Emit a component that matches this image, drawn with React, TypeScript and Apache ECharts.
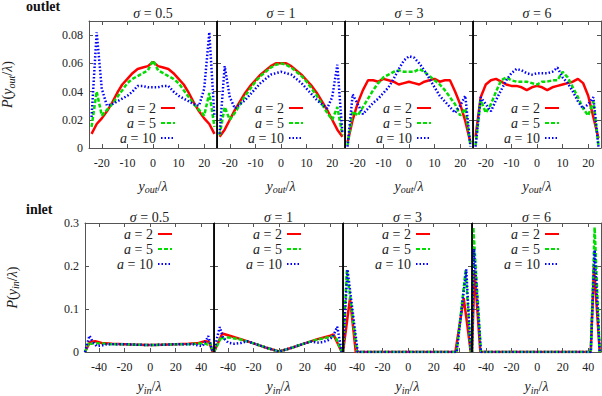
import React, { useEffect, useRef } from "react";
import * as echarts from "echarts";

// ---------- data ----------
const X_OUT = [-24, -22, -20, -18, -16, -14, -12, -10, -8, -6, -4, -2, 0, 2, 4, 6, 8, 10, 12, 14, 16, 18, 20, 22, 24];

const OUT_S05_A2 = [0.010, 0.017, 0.021, 0.026, 0.032, 0.039, 0.045, 0.049, 0.053, 0.056, 0.057, 0.058, 0.061, 0.058, 0.057, 0.056, 0.053, 0.049, 0.045, 0.039, 0.032, 0.026, 0.021, 0.017, 0.010];
const OUT_S05_A5 = [0.015, 0.040, 0.023, 0.027, 0.031, 0.036, 0.041, 0.046, 0.049, 0.051, 0.053, 0.055, 0.062, 0.055, 0.053, 0.051, 0.049, 0.046, 0.041, 0.036, 0.031, 0.027, 0.023, 0.039, 0.015];
const OUT_S05_A10 = [0.022, 0.082, 0.042, 0.030, 0.031, 0.033, 0.035, 0.037, 0.040, 0.044, 0.044, 0.043, 0.043, 0.043, 0.044, 0.044, 0.040, 0.037, 0.035, 0.033, 0.031, 0.030, 0.042, 0.082, 0.022];

const OUT_S1_A2 = [0.008, 0.013, 0.020, 0.027, 0.033, 0.039, 0.044, 0.048, 0.052, 0.055, 0.058, 0.060, 0.060, 0.060, 0.058, 0.055, 0.052, 0.048, 0.044, 0.039, 0.033, 0.027, 0.020, 0.013, 0.008];
const OUT_S1_A5 = [0.009, 0.029, 0.020, 0.025, 0.031, 0.037, 0.042, 0.047, 0.051, 0.054, 0.057, 0.059, 0.060, 0.059, 0.057, 0.054, 0.051, 0.047, 0.042, 0.037, 0.031, 0.025, 0.020, 0.029, 0.009];
const OUT_S1_A10 = [0.010, 0.058, 0.036, 0.028, 0.031, 0.034, 0.038, 0.042, 0.046, 0.049, 0.052, 0.053, 0.054, 0.053, 0.052, 0.049, 0.046, 0.042, 0.038, 0.034, 0.031, 0.028, 0.036, 0.059, 0.010];

const OUT_S3_A2 = [0.004, 0.020, 0.032, 0.041, 0.048, 0.048, 0.047, 0.049, 0.048, 0.047, 0.045, 0.046, 0.047, 0.046, 0.045, 0.047, 0.048, 0.049, 0.047, 0.048, 0.048, 0.040, 0.031, 0.019, 0.004];
const OUT_S3_A5 = [0.002, 0.026, 0.023, 0.029, 0.035, 0.041, 0.046, 0.050, 0.052, 0.054, 0.055, 0.054, 0.054, 0.054, 0.056, 0.054, 0.051, 0.048, 0.045, 0.041, 0.036, 0.031, 0.023, 0.028, 0.002];
const OUT_S3_A10 = [0.001, 0.038, 0.031, 0.024, 0.028, 0.032, 0.035, 0.039, 0.043, 0.049, 0.056, 0.062, 0.065, 0.064, 0.060, 0.055, 0.049, 0.043, 0.037, 0.033, 0.029, 0.025, 0.030, 0.037, 0.001];

const OUT_S6_A2 = [0.008, 0.036, 0.045, 0.048, 0.049, 0.047, 0.045, 0.044, 0.044, 0.043, 0.041, 0.043, 0.044, 0.043, 0.041, 0.043, 0.044, 0.045, 0.046, 0.047, 0.049, 0.046, 0.037, 0.022, 0.007];
const OUT_S6_A5 = [0.002, 0.034, 0.025, 0.031, 0.040, 0.048, 0.050, 0.048, 0.047, 0.047, 0.047, 0.046, 0.045, 0.047, 0.047, 0.048, 0.048, 0.054, 0.050, 0.043, 0.036, 0.028, 0.023, 0.033, 0.002];
const OUT_S6_A10 = [0.001, 0.036, 0.031, 0.026, 0.034, 0.041, 0.048, 0.053, 0.056, 0.055, 0.053, 0.052, 0.053, 0.053, 0.053, 0.054, 0.057, 0.050, 0.046, 0.040, 0.033, 0.028, 0.031, 0.036, 0.001];

const IN_S05_A2 = [[-51, 0], [-47, 0.024], [-43, 0.025], [-38, 0.021], [-30, 0.019], [-20, 0.018], [-10, 0.017], [0, 0.016], [10, 0.017], [20, 0.018], [30, 0.019], [38, 0.021], [43, 0.025], [46, 0.024], [49, 0]];
const IN_S05_A5 = [[-51, 0], [-48, 0.022], [-46, 0.019], [-44, 0.021], [-40, 0.020], [-30, 0.018], [-20, 0.018], [-10, 0.017], [0, 0.016], [10, 0.017], [20, 0.018], [30, 0.018], [40, 0.020], [43, 0.020], [45, 0.017], [47, 0.022], [49, 0]];
const IN_S05_A10 = [[-51, 0], [-47.5, 0.038], [-45, 0.024], [-42, 0.014], [-38, 0.015], [-34, 0.018], [-20, 0.018], [-10, 0.017], [0, 0.016], [10, 0.017], [20, 0.018], [34, 0.018], [38, 0.015], [41, 0.014], [44, 0.028], [45.5, 0.037], [47.5, 0.015], [49, 0]];

const IN_S1_A2 = [[-51, 0], [-44.5, 0.043], [-40, 0.039], [-30, 0.030], [-20, 0.020], [-10, 0.010], [0, 0.001], [10, 0.010], [20, 0.020], [30, 0.030], [40, 0.038], [42.5, 0.041], [49, 0]];
const IN_S1_A5 = [[-51, 0], [-45, 0.036], [-43, 0.030], [-40, 0.034], [-30, 0.029], [-20, 0.020], [-10, 0.010], [0, 0.001], [10, 0.010], [20, 0.020], [30, 0.029], [40, 0.035], [43, 0.037], [45, 0.030], [49, 0]];
const IN_S1_A10 = [[-51, 0], [-48, 0.040], [-46.5, 0.058], [-44, 0.034], [-40, 0.022], [-35, 0.019], [-30, 0.021], [-25, 0.025], [-20, 0.020], [-10, 0.010], [0, 0.001], [10, 0.010], [20, 0.020], [25, 0.024], [30, 0.022], [34, 0.023], [38, 0.027], [42, 0.035], [45.5, 0.059], [49, 0]];

const IN_S3_A2 = [[-51, 0], [-45.5, 0.125], [-41, 0], [37, 0], [43.5, 0.125], [46, 0.07], [49, 0]];
const IN_S3_A5 = [[-51, 0], [-48, 0.19], [-40, 0], [38, 0], [45, 0.19], [49, 0]];
const IN_S3_A10 = [[-51, 0], [-47.5, 0.192], [-39.5, 0], [38, 0], [45.5, 0.192], [49, 0]];

const IN_S6_A2 = [[-51, 0], [-49, 0.19], [-44.5, 0], [42, 0], [44.5, 0.20], [49, 0]];
const IN_S6_A5 = [[-51, 0], [-50, 0.29], [-44, 0], [42, 0], [45, 0.29], [49, 0]];
const IN_S6_A10 = [[-51, 0], [-49.5, 0.24], [-44, 0], [42, 0], [45, 0.237], [49, 0]];

const SERIES_NAMES = ["a = 2", "a = 5", "a = 10"];
const SIGMA_LABELS = ["0.5", "1", "3", "6"];
const OUT_X_TICKS = [-20, -10, 0, 10, 20];
const OUT_Y_TICKS = [0, 0.02, 0.04, 0.06, 0.08];
const IN_X_TICKS = [-40, -20, 0, 20, 40];
const IN_Y_TICKS = [0, 0.1, 0.2, 0.3];

const OUT_DATA = [
  [OUT_S05_A2, OUT_S05_A5, OUT_S05_A10],
  [OUT_S1_A2, OUT_S1_A5, OUT_S1_A10],
  [OUT_S3_A2, OUT_S3_A5, OUT_S3_A10],
  [OUT_S6_A2, OUT_S6_A5, OUT_S6_A10],
];
const IN_DATA = [
  [IN_S05_A2, IN_S05_A5, IN_S05_A10],
  [IN_S1_A2, IN_S1_A5, IN_S1_A10],
  [IN_S3_A2, IN_S3_A5, IN_S3_A10],
  [IN_S6_A2, IN_S6_A5, IN_S6_A10],
];

// ---------- styling / layout ----------
const FONT = "Liberation Serif";
const AXIS_COLOR = "#555";
const TEXT_COLOR = "#222";
const COLORS = ["#ff0000", "#00dd00", "#0000ff"];
const DASHES: any[] = ["solid", [4, 2], [1.5, 2]];

const ROWS = [
  { lefts: [89, 217, 345, 473], width: 128, top: 21, height: 127, xr: [-25, 25], yr: [0, 0.09], xt: OUT_X_TICKS, yt: OUT_Y_TICKS, yDec: 2, sub: "out", label: "outlet", labelY: 6.5, titleY: 13.5, nameY: 186, yNameX: 7.5, legendTop: 101 },
  { lefts: [85, 214, 343, 472], width: 129, top: 223, height: 129, xr: [-51, 50], yr: [0, 0.3], xt: IN_X_TICKS, yt: IN_Y_TICKS, yDec: 1, sub: "in", label: "inlet", labelY: 209.5, titleY: 217, nameY: 386.5, yNameX: 12, legendTop: 227 },
];

function richStyles(size: number) {
  return {
    i: { fontStyle: "italic", fontSize: size, fontFamily: FONT, fill: TEXT_COLOR },
    sub: { fontStyle: "italic", fontSize: size * 0.72, fontFamily: FONT, fill: TEXT_COLOR, verticalAlign: "bottom", padding: [7, 0, 0, 0] },
  };
}

function buildOption() {
  const grid: any[] = [];
  const xAxis: any[] = [];
  const yAxis: any[] = [];
  const series: any[] = [];
  const legend: any[] = [];
  const graphic: any[] = [];

  ROWS.forEach((row, r) => {
    const data = r === 0 ? OUT_DATA : IN_DATA;
    row.lefts.forEach((left, c) => {
      const g = grid.length;
      grid.push({ left, top: row.top, width: row.width, height: row.height, containLabel: false, outerBoundsMode: "none" });
      const tick = (vals: number[]) => ({ show: true, inside: true, length: 4, customValues: vals, lineStyle: { color: AXIS_COLOR, width: 1 } });
      const line = { show: true, onZero: false, lineStyle: { color: AXIS_COLOR, width: 1 } };
      xAxis.push({
        type: "value", gridIndex: g, position: "bottom", min: row.xr[0], max: row.xr[1],
        axisLine: line, axisTick: tick(row.xt), splitLine: { show: false },
        axisLabel: { show: true, customValues: row.xt, margin: 9, fontSize: 12, fontFamily: FONT, color: TEXT_COLOR, formatter: (v: number) => String(v) },
      });
      xAxis.push({
        type: "value", gridIndex: g, position: "top", min: row.xr[0], max: row.xr[1],
        axisLine: line, axisTick: tick(row.xt), splitLine: { show: false }, axisLabel: { show: false },
      });
      yAxis.push({
        type: "value", gridIndex: g, position: "left", min: row.yr[0], max: row.yr[1],
        axisLine: line, axisTick: tick(row.yt), splitLine: { show: false },
        axisLabel: { show: c === 0, customValues: row.yt, margin: 6, fontSize: 12, fontFamily: FONT, color: TEXT_COLOR, formatter: (v: number) => (v === 0 ? "0" : v.toFixed(row.yDec)) },
      });
      yAxis.push({
        type: "value", gridIndex: g, position: "right", min: row.yr[0], max: row.yr[1],
        axisLine: line, axisTick: tick(row.yt), splitLine: { show: false }, axisLabel: { show: false },
      });
      data[c].forEach((vals: any[], s: number) => {
        series.push({
          type: "line", name: SERIES_NAMES[s], xAxisIndex: 2 * g, yAxisIndex: 2 * g,
          data: r === 0 ? X_OUT.map((x, i) => [x, vals[i]]) : vals,
          showSymbol: false, symbol: "none", silent: true, color: COLORS[s],
          lineStyle: { color: COLORS[s], width: 2.5, type: DASHES[s] },
        });
      });
      const panelRight = left + row.width;
      legend.push({
        orient: "vertical", align: "right", right: 602 - (panelRight - 41), top: row.legendTop,
        padding: 0, itemGap: 1, itemWidth: 14, itemHeight: 12, selectedMode: false,
        itemStyle: { opacity: 0 },
        data: SERIES_NAMES,
        formatter: (name: string) => name.replace(/^a/, "{i|a}"),
        textStyle: { fontSize: 14, fontFamily: FONT, color: TEXT_COLOR, rich: { i: { fontStyle: "italic", fontSize: 14, fontFamily: FONT, color: TEXT_COLOR } } },
      });
      const cx = left + row.width / 2;
      graphic.push({
        type: "text", x: cx, y: row.titleY, silent: true,
        style: { text: "{i|σ} = " + SIGMA_LABELS[c], rich: richStyles(14), fontSize: 14, fontFamily: FONT, fill: TEXT_COLOR, align: "center", verticalAlign: "middle" },
      });
      graphic.push({
        type: "text", x: cx, y: row.nameY, silent: true,
        style: { text: "{i|y}{sub|" + row.sub + "}/{i|λ}", rich: richStyles(14), fontSize: 14, fontFamily: FONT, fill: TEXT_COLOR, align: "center", verticalAlign: "middle" },
      });
      if (c > 0) {
        graphic.push({ type: "line", silent: true, z: 100, shape: { x1: left, y1: row.top, x2: left, y2: row.top + row.height }, style: { stroke: "#000", lineWidth: 1.8 } });
      }
    });
    graphic.push({
      type: "text", x: 26, y: row.labelY, silent: true,
      style: { text: row.label, fontSize: 14, fontWeight: "bold", fontFamily: FONT, fill: "#111", align: "left", verticalAlign: "middle" },
    });
    graphic.push({
      type: "text", x: row.yNameX, y: row.top + row.height / 2, rotation: Math.PI / 2, silent: true,
      style: { text: "{i|P}({i|y}{sub|" + row.sub + "}/{i|λ})", rich: richStyles(14), fontSize: 14, fontFamily: FONT, fill: TEXT_COLOR, align: "center", verticalAlign: "middle" },
    });
  });

  return { animation: false, backgroundColor: "#fff", grid, xAxis, yAxis, series, legend, graphic };
}

export default function App() {
  const ref = useRef<HTMLDivElement>(null);
  useEffect(() => {
    if (!ref.current) return;
    const chart = echarts.init(ref.current, null, { renderer: "svg" });
    chart.setOption(buildOption() as any);
    return () => chart.dispose();
  }, []);
  return <div ref={ref} style={{ position: "absolute", left: 0, top: 0, width: 602, height: 396 }} />;
}
